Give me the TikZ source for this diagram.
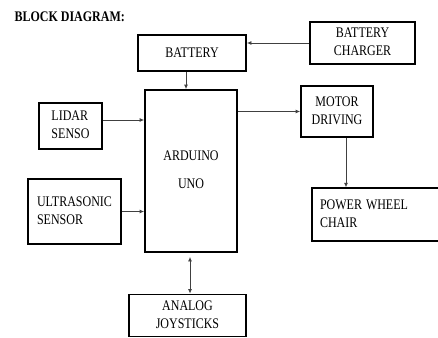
\documentclass[tikz,border=0pt]{standalone}
\usepackage{fontspec}
\setmainfont{Liberation Serif}
\usetikzlibrary{arrows.meta}
\newcommand{\tall}[1]{\scalebox{1}[1.22]{#1}}

\begin{document}
\begin{tikzpicture}[x=1pt,y=-1pt, font=\fontsize{12}{15}\selectfont, blk/.style={draw,rectangle,line width=1.8pt,inner sep=0pt}, link/.style={draw=black!75,line width=0.8pt,-{Latex[length=4.5pt,width=4pt]}}]
\useasboundingbox (0,0) rectangle (438,337);
\node[anchor=west,font=\fontsize{12}{14}\selectfont\bfseries] (title) at (11,17) {\tall{BLOCK DIAGRAM:}};
\node[blk,minimum width=108pt,minimum height=36pt] (battery) at (192,53) {\tall{BATTERY}};
\node[blk,minimum width=105pt,minimum height=42pt] (charger) at (362.5,43) {\tall{\begin{tabular}{c} BATTERY \\ CHARGER \end{tabular}}};
\node[blk,minimum width=92pt,minimum height=162pt] (arduino) at (191,171) {\tall{\begin{tabular}{c} ARDUINO \\[8pt] UNO \end{tabular}}};
\node[blk,minimum width=63pt,minimum height=46pt] (lidar) at (70.5,126) {\tall{\begin{tabular}{l} LIDAR \\ SENSO \end{tabular}}};
\node[blk,minimum width=72pt,minimum height=51pt] (motor) at (337,111.5) {\tall{\begin{tabular}{c} MOTOR \\ DRIVING \end{tabular}}};
\node[blk,minimum width=93pt,minimum height=65pt] (ultra) at (74.5,211.5) {\tall{\begin{tabular}{l} ULTRASONIC \\ SENSOR \end{tabular}}};
\node[blk,text width=117pt,align=left,inner sep=8pt,minimum height=49pt] (chair) at (378.5,214.5) {\tall{\begin{tabular}{@{}l} POWER WHEEL \\ CHAIR \end{tabular}}};
\node[blk,minimum width=117pt,minimum height=42pt] (joystick) at (187.5,315.5) {\tall{\begin{tabular}{c} ANALOG \\ JOYSTICKS \end{tabular}}};
% connectors
\draw[link] (charger.west) -- (charger.west -| battery.east);
\draw[link] ([xshift=-6pt]battery.south) -- ([xshift=-6pt]battery.south |- arduino.north);
\draw[link] ([yshift=6pt]lidar.east) -- ([yshift=6pt]lidar.east -| arduino.west);
\draw[link] (arduino.east |- motor.west) -- (motor.west);
\draw[link] (ultra.east) -- (ultra.east -| arduino.west);
\draw[link] ([xshift=9pt]motor.south) -- ([xshift=9pt]motor.south |- chair.north);
\draw[link,{Latex[length=4.5pt,width=4pt]}-{Latex[length=4.5pt,width=4pt]},shorten <=4pt] ([xshift=-1pt]arduino.south) -- ([xshift=-1pt]arduino.south |- joystick.north);
\end{tikzpicture}
\end{document}
